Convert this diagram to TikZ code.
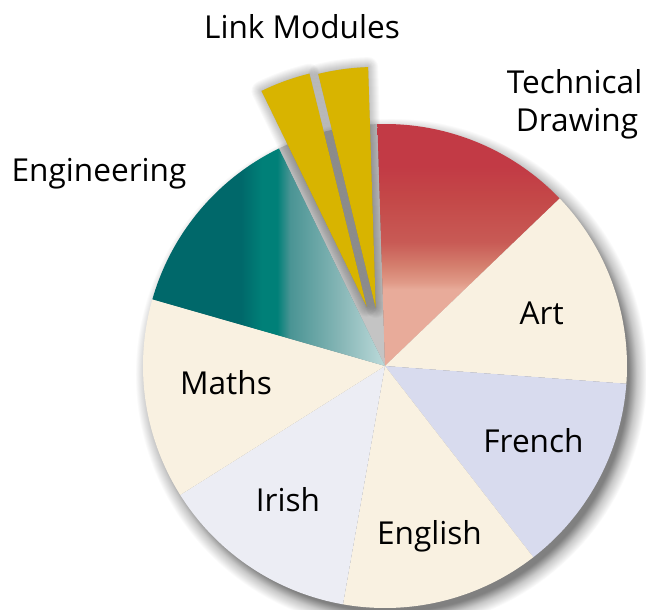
\documentclass[tikz,border=0pt]{standalone}
\usepackage{fontspec}
\setmainfont{Open Sans}
\usetikzlibrary{calc}
\definecolor{cream}{HTML}{F9F1E1}
\definecolor{lav}{HTML}{D8DBEE}
\definecolor{lavlight}{HTML}{ECEDF4}
\definecolor{gold}{HTML}{D8B400}
\definecolor{gapgray}{HTML}{C4C4C4}
\definecolor{shd}{HTML}{808080}
\definecolor{shdb}{HTML}{C8C8C8}
\definecolor{engA}{HTML}{00686A}
\definecolor{engB}{HTML}{008078}
\definecolor{engC}{HTML}{4A9494}
\definecolor{engD}{HTML}{86B6B6}
\definecolor{engE}{HTML}{BCDADA}
\definecolor{tdA}{HTML}{C23A45}
\definecolor{tdB}{HTML}{C44848}
\definecolor{tdC}{HTML}{C85A55}
\definecolor{tdD}{HTML}{D5806F}
\definecolor{tdE}{HTML}{E09A88}
\definecolor{tdF}{HTML}{E8AB9A}
\pgfdeclarehorizontalshading{engshade}{100bp}{color(0bp)=(engA); color(25bp)=(engA); color(44bp)=(engA); color(48.6bp)=(engB); color(51.8bp)=(engB); color(54.6bp)=(engC); color(65.3bp)=(engD); color(75bp)=(engE); color(100bp)=(engE)}
\pgfdeclareverticalshading{tdshade}{100bp}{color(0bp)=(tdF); color(40.7bp)=(tdF); color(42.1bp)=(tdE); color(45.4bp)=(tdD); color(50.4bp)=(tdC); color(59.3bp)=(tdB); color(66bp)=(tdA); color(100bp)=(tdA)}
\pgfdeclareradialshading{pieshadow}{\pgfpoint{0bp}{0bp}}{color(0bp)=(shd); color(23.2bp)=(shd); color(24bp)=(shdb); color(25bp)=(white); color(50bp)=(white)}
\tikzset{
  lbl/.style={font=\fontsize{31.6}{38}\selectfont, text=black, inner sep=0pt, anchor=base},
  glow/.style={black, line join=round}
}
\begin{document}
\begin{tikzpicture}[x=1pt,y=1pt]
\useasboundingbox (0,0) rectangle (646,610);
\fill[white] (0,0) rectangle (646,610);
\coordinate (C) at (385,244);
\coordinate (S) at (391,236);
\coordinate (L1) at (366.7,303.3);
\coordinate (L2) at (375.7,302);
% pie drop shadow
\shade[shading=pieshadow] (S) circle[radius=256pt];
% gap behind link modules
\fill[gapgray] (C) -- ++(91.8:242pt) arc[start angle=91.8, end angle=116, radius=242pt] -- cycle;
% shadows of the link module slices
\begin{scope}[shift={(5pt,-3pt)}]
\fill[black, opacity=0.12] (L1) -- ++(103.8:240pt) arc[start angle=103.8, end angle=116, radius=240pt] -- cycle;
\fill[black, opacity=0.12] (L2) -- ++(91.8:241pt) arc[start angle=91.8, end angle=103.8, radius=241pt] -- cycle;
\foreach \w in {2,4,...,20}{
  \draw[glow, opacity=0.025, line width=\w pt] (L1) -- ++(103.8:240pt) arc[start angle=103.8, end angle=116, radius=240pt] -- cycle;
  \draw[glow, opacity=0.025, line width=\w pt] (L2) -- ++(91.8:241pt) arc[start angle=91.8, end angle=103.8, radius=241pt] -- cycle;
}
\end{scope}
% slices
\shade[shading=tdshade] (C) -- ++(43.8:242pt) arc[start angle=43.8, end angle=91.8, radius=242pt] -- cycle;
\fill[cream] (C) -- ++(-4.2:242pt) arc[start angle=-4.2, end angle=43.8, radius=242pt] -- cycle;
\fill[lav] (C) -- ++(-52.2:242pt) arc[start angle=-52.2, end angle=-4.2, radius=242pt] -- cycle;
\fill[cream] (C) -- ++(-100:242pt) arc[start angle=-100, end angle=-52.2, radius=242pt] -- cycle;
\fill[lavlight] (C) -- ++(-147.8:242pt) arc[start angle=-147.8, end angle=-100, radius=242pt] -- cycle;
\fill[cream] (C) -- ++(164:242pt) arc[start angle=164, end angle=212.2, radius=242pt] -- cycle;
\shade[shading=engshade] (C) -- ++(116:242pt) arc[start angle=116, end angle=164, radius=242pt] -- cycle;
% link module slices
\fill[gold] (L1) -- ++(103.8:240pt) arc[start angle=103.8, end angle=116, radius=240pt] -- cycle;
\fill[gold] (L2) -- ++(91.8:241pt) arc[start angle=91.8, end angle=103.8, radius=241pt] -- cycle;
% labels
\node[lbl] (link) at (302,571) {Link Modules};
\node[lbl] (tech1) at (574.5,516) {Technical};
\node[lbl] (tech2) at (577,478) {Drawing};
\node[lbl] (eng) at (99,428) {Engineering};
\node[lbl] (art) at (541.7,285) {Art};
\node[lbl] (fr) at (533.5,157) {French};
\node[lbl] (en) at (429.5,65) {English};
\node[lbl] (ir) at (288,98.3) {Irish};
\node[lbl] (ma) at (226,215) {Maths};
\end{tikzpicture}
\end{document}
